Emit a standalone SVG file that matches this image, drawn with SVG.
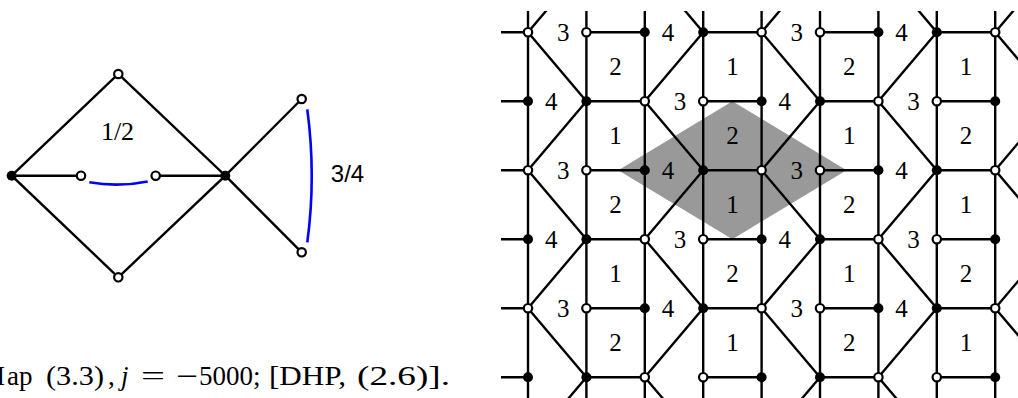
<svg xmlns="http://www.w3.org/2000/svg" xmlns:xlink="http://www.w3.org/1999/xlink" width="1018" height="398" viewBox="0 0 1018 398">
<style>
.e{stroke:#000;stroke-width:2.4;fill:none}
.b{stroke:#0000ff;stroke-width:2.6;fill:none}
.o{fill:#fff;stroke:#000;stroke-width:2.2}
.f{fill:#000}
.g{font-family:"Liberation Serif",serif;font-size:25px;fill:#000;text-anchor:middle}
.s{font-family:"Liberation Sans",Arial,sans-serif;font-size:24px;fill:#000;text-anchor:middle}
.c{font-family:"Liberation Serif",serif;font-size:27px;fill:#000}
</style>
<defs>
<clipPath id="clip"><rect x="501" y="11" width="520" height="400"/></clipPath>
<path id="hrow" d="M469.6 0H528M586.4 0H644.8M703.2 0H761.6M820 0H878.4M936.8 0H995.2"/>
<polyline id="zA" points="58.4,-36.8 0,32.2 58.4,101.2 0,170.2 58.4,239.2 0,308.2 58.4,377.2 0,446.2"/>
<polyline id="zB" points="0,-36.8 58.4,32.2 0,101.2 58.4,170.2 0,239.2 58.4,308.2 0,377.2 58.4,446.2"/>
<g id="vE">
<circle class="o" cx="528" cy="0" r="4.2"/><circle class="o" cx="586.4" cy="0" r="4.2"/>
<circle class="f" cx="644.8" cy="0" r="5"/><circle class="f" cx="703.2" cy="0" r="5"/>
<circle class="o" cx="761.6" cy="0" r="4.2"/><circle class="o" cx="820" cy="0" r="4.2"/>
<circle class="f" cx="878.4" cy="0" r="5"/><circle class="f" cx="936.8" cy="0" r="5"/>
<circle class="o" cx="995.2" cy="0" r="4.2"/>
</g>
<g id="vO">
<circle class="f" cx="528" cy="0" r="5"/><circle class="f" cx="586.4" cy="0" r="5"/>
<circle class="o" cx="644.8" cy="0" r="4.2"/><circle class="o" cx="703.2" cy="0" r="4.2"/>
<circle class="f" cx="761.6" cy="0" r="5"/><circle class="f" cx="820" cy="0" r="5"/>
<circle class="o" cx="878.4" cy="0" r="4.2"/><circle class="o" cx="936.8" cy="0" r="4.2"/>
<circle class="f" cx="995.2" cy="0" r="5"/>
</g>
</defs>

<!-- Left graph -->
<g id="connectors">
<path class="e" d="M11.7 175.7L118.3 74L225.3 175.7L118.3 277.3Z"/>
<path class="e" d="M11.7 175.7H81M155.7 175.7H225.3"/>
<path class="e" d="M225.3 175.7L301.7 99M225.3 175.7L301.7 252.3"/>
<path class="b" d="M89.3 182.3Q118.5 187.4 147.7 181.4"/>
<path class="b" d="M307.3 109.3Q316.2 176 307.3 242.3"/>
</g>
<g id="nL"><circle class="f" cx="11.7" cy="175.7" r="5"/></g>
<g id="nT"><circle class="o" cx="118.3" cy="74" r="4.2"/></g>
<g id="nB"><circle class="o" cx="118.3" cy="277.3" r="4.2"/></g>
<g id="nH"><circle class="f" cx="225.3" cy="175.7" r="5"/></g>
<g id="nI1"><circle class="o" cx="81" cy="175.7" r="4.2"/></g>
<g id="nI2"><circle class="o" cx="155.7" cy="175.7" r="4.2"/></g>
<g id="nR1"><circle class="o" cx="301.7" cy="99" r="4.2"/></g>
<g id="nR2"><circle class="o" cx="301.7" cy="252.3" r="4.2"/></g>
<text class="g" x="117.5" y="139.5" style="font-size:26px">1/2</text>
<text class="s" x="347.5" y="181.5">3/4</text>

<!-- Caption -->
<text id="caption" class="c" y="385"><tspan x="-19">M</tspan><tspan x="7">ap </tspan><tspan x="46" textLength="58" lengthAdjust="spacingAndGlyphs">(3.3)</tspan><tspan x="108">, </tspan><tspan x="121" font-style="italic">j </tspan><tspan x="141" textLength="24" lengthAdjust="spacingAndGlyphs">=</tspan><tspan x="176" textLength="22" lengthAdjust="spacingAndGlyphs">−</tspan><tspan x="199">5000;</tspan><tspan x="269" textLength="77" lengthAdjust="spacingAndGlyphs">[DHP,</tspan><tspan x="357" textLength="93" lengthAdjust="spacingAndGlyphs">(2.6)].</tspan></text>

<!-- Right tiling -->
<g id="tiling">
<polygon points="618.3,170.2 732.4,101.2 846.5,170.2 732.4,239.2" fill="#999999"/>
<g clip-path="url(#clip)" class="e">
<path d="M528 0V398M586.4 0V398M644.8 0V398M703.2 0V398M761.6 0V398M820 0V398M878.4 0V398M936.8 0V398M995.2 0V398"/>
<use xlink:href="#hrow" transform="translate(0,32.2)"/>
<use xlink:href="#hrow" transform="translate(0,101.2)"/>
<use xlink:href="#hrow" transform="translate(0,170.2)"/>
<use xlink:href="#hrow" transform="translate(0,239.2)"/>
<use xlink:href="#hrow" transform="translate(0,308.2)"/>
<use xlink:href="#hrow" transform="translate(0,377.2)"/>
<use xlink:href="#zA" transform="translate(528,0)"/>
<use xlink:href="#zA" transform="translate(761.6,0)"/>
<use xlink:href="#zA" transform="translate(995.2,0)"/>
<use xlink:href="#zB" transform="translate(644.8,0)"/>
<use xlink:href="#zB" transform="translate(878.4,0)"/>
</g>
<g id="vertices">
<use xlink:href="#vE" transform="translate(0,32.2)"/>
<use xlink:href="#vO" transform="translate(0,101.2)"/>
<use xlink:href="#vE" transform="translate(0,170.2)"/>
<use xlink:href="#vO" transform="translate(0,239.2)"/>
<use xlink:href="#vE" transform="translate(0,308.2)"/>
<use xlink:href="#vO" transform="translate(0,377.2)"/>
</g>
<g id="labels" class="g">
<text x="563.2" y="40.7">3</text><text x="668" y="40.7">4</text><text x="796.8" y="40.7">3</text><text x="901.6" y="40.7">4</text>
<text x="551.2" y="109.7">4</text><text x="680" y="109.7">3</text><text x="784.8" y="109.7">4</text><text x="913.6" y="109.7">3</text>
<text x="563.2" y="178.7">3</text><text x="668" y="178.7">4</text><text x="796.8" y="178.7">3</text><text x="901.6" y="178.7">4</text>
<text x="551.2" y="247.7">4</text><text x="680" y="247.7">3</text><text x="784.8" y="247.7">4</text><text x="913.6" y="247.7">3</text>
<text x="563.2" y="316.7">3</text><text x="668" y="316.7">4</text><text x="796.8" y="316.7">3</text><text x="901.6" y="316.7">4</text>
<text x="615.6" y="75.2">2</text><text x="732.4" y="75.2">1</text><text x="849.2" y="75.2">2</text><text x="966" y="75.2">1</text>
<text x="615.6" y="144.2">1</text><text x="732.4" y="144.2">2</text><text x="849.2" y="144.2">1</text><text x="966" y="144.2">2</text>
<text x="615.6" y="213.2">2</text><text x="732.4" y="213.2">1</text><text x="849.2" y="213.2">2</text><text x="966" y="213.2">1</text>
<text x="615.6" y="282.2">1</text><text x="732.4" y="282.2">2</text><text x="849.2" y="282.2">1</text><text x="966" y="282.2">2</text>
<text x="615.6" y="351.2">2</text><text x="732.4" y="351.2">1</text><text x="849.2" y="351.2">2</text><text x="966" y="351.2">1</text>
</g>
</g>
</svg>
